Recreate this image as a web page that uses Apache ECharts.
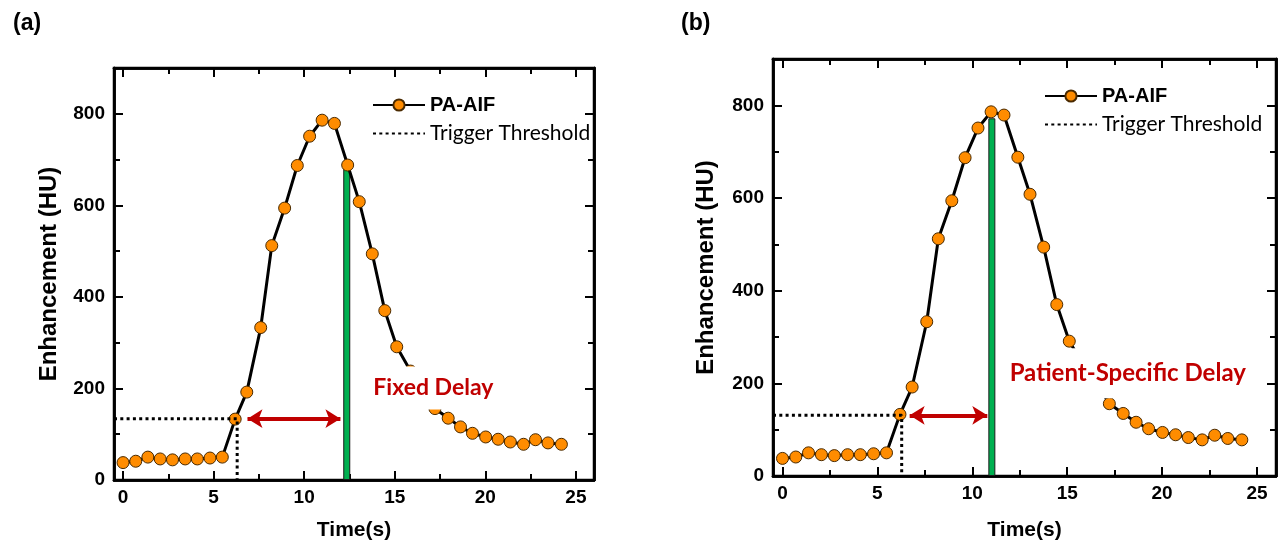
<!DOCTYPE html>
<html><head><meta charset="utf-8">
<script src="https://cdn.jsdelivr.net/npm/echarts@6/dist/echarts.min.js"></script>
<style>html,body{margin:0;padding:0;background:#fff}#c{width:1281px;height:546px}</style>
</head><body><div id="c"></div>
<script>
// ---- data ----
const timeS = [0, 0.70, 1.37, 2.05, 2.73, 3.43, 4.10, 4.80, 5.48, 6.19, 6.83, 7.60, 8.21, 8.92, 9.62, 10.30, 10.99, 11.67, 12.40, 13.04, 13.76, 14.45, 15.11, 15.87, 16.56, 17.22, 17.95, 18.63, 19.29, 20.02, 20.71, 21.38, 22.11, 22.77, 23.46, 24.20];
const enhancementHU = [38, 41, 50, 46, 44, 46, 46, 48, 50, 133, 192, 333, 512, 594, 687, 751, 786, 779, 688, 608, 494, 370, 291, 238, 200, 156, 135, 116, 102, 94, 89, 83, 78, 88, 81, 78];
const xTickLabels = [0, 5, 10, 15, 20, 25];
const xMinorTicks = [2.5, 7.5, 12.5, 17.5, 22.5];
const yTickLabels = [0, 200, 400, 600, 800];
const yMinorTicks = [100, 300, 500, 700, 900];
const panelNames = ['(a)', '(b)'];
const thresholdHU = [134, 131];
const triggerTime = [6.3, 6.28];
const scanTime = [12.35, 11.03];
const scanBarTop = [680, 772];
const arrowFrom = [6.87, 6.70];
const arrowTo = [12.0, 10.79];
const delayText = ['Fixed Delay', 'Patient-Specific Delay'];
const delayTextPos = [[17.13, 201], [18.19, 222]];

const AR = 'Liberation Sans, Arial, sans-serif';
const CAL = 'Lato, Carlito, sans-serif';
const grids = [
  {left: 114, top: 68, width: 480, height: 414},
  {left: 773, top: 59, width: 503, height: 417}
];
const yNameGap = [53, 55];
const xNameGap = [40, 44];
const legendPos = [{left: 367, top: 90}, {left: 1039, top: 81}];
const labelPad = [[13, 4, 7, 4], [15, 4, 11, 4]];
const labelSize = [23, 24];

const lineW = 2.5;
function xAxes(g) {
  const base = {gridIndex: g, type: 'value', min: -0.5, max: 26, splitLine: {show: false},
    axisLine: {show: true, onZero: false, lineStyle: {color: '#000', width: lineW}}};
  const major = {show: true, inside: true, length: 9, customValues: xTickLabels, lineStyle: {color: '#000', width: 2}};
  const minor = {show: true, inside: true, length: 6, customValues: xMinorTicks, lineStyle: {color: '#000', width: 2}};
  return [
    Object.assign({}, base, {position: 'bottom', name: 'Time(s)', nameLocation: 'middle', nameGap: xNameGap[g],
      nameTextStyle: {fontFamily: AR, fontWeight: 'bold', fontSize: 21, color: '#000'},
      axisTick: major,
      axisLabel: {customValues: xTickLabels, margin: 8, fontFamily: AR, fontWeight: 'bold', fontSize: 19, color: '#000'}}),
    Object.assign({}, base, {position: 'top', axisTick: major, axisLabel: {show: false}}),
    Object.assign({}, base, {position: 'bottom', axisTick: minor, axisLabel: {show: false}}),
    Object.assign({}, base, {position: 'top', axisTick: minor, axisLabel: {show: false}})
  ];
}
function yAxes(g) {
  const base = {gridIndex: g, type: 'value', min: 0, max: 900, splitLine: {show: false},
    axisLine: {show: true, onZero: false, lineStyle: {color: '#000', width: lineW}}};
  const major = {show: true, inside: true, length: 9, customValues: yTickLabels, lineStyle: {color: '#000', width: 2}};
  const minor = {show: true, inside: true, length: 6, customValues: yMinorTicks, lineStyle: {color: '#000', width: 2}};
  return [
    Object.assign({}, base, {position: 'left', name: 'Enhancement (HU)', nameLocation: 'middle', nameGap: yNameGap[g],
      nameTextStyle: {fontFamily: AR, fontWeight: 'bold', fontSize: 24, color: '#000'},
      axisTick: major,
      axisLabel: {customValues: yTickLabels, margin: 9, fontFamily: AR, fontWeight: 'bold', fontSize: 19, color: '#000'}}),
    Object.assign({}, base, {position: 'right', axisTick: major, axisLabel: {show: false}}),
    Object.assign({}, base, {position: 'left', axisTick: minor, axisLabel: {show: false}}),
    Object.assign({}, base, {position: 'right', axisTick: minor, axisLabel: {show: false}})
  ];
}

const curve = timeS.map((t, i) => [t, enhancementHU[i]]);
const series = [];
[0, 1].forEach(g => {
  const ax = {xAxisIndex: g * 4, yAxisIndex: g * 4};
  series.push(Object.assign({}, ax, {
    type: 'bar', name: 'scan' + g, data: [[scanTime[g], scanBarTop[g]]], barWidth: 7, z: 2,
    itemStyle: {color: '#00B050', borderColor: '#1a1a1a', borderWidth: 1},
    markLine: {silent: true, symbol: ['arrow', 'arrow'], symbolSize: [14, 15], label: {show: false},
      lineStyle: {color: '#C00000', width: 4, type: 'solid'},
      data: [[{coord: [arrowFrom[g], thresholdHU[g]]}, {coord: [arrowTo[g], thresholdHU[g]]}]]}
  }));
  series.push(Object.assign({}, ax, {
    type: 'line', name: 'PA-AIF', data: curve, z: 3,
    symbol: 'circle', symbolSize: 12, showSymbol: true,
    itemStyle: {color: '#FF8C00', borderColor: '#4a2a00', borderWidth: 1},
    lineStyle: {color: '#000', width: 3}
  }));
  series.push(Object.assign({}, ax, {
    type: 'line', name: 'Trigger Threshold', z: 4, symbol: 'none',
    data: [[-0.5, thresholdHU[g]], [triggerTime[g], thresholdHU[g]], [triggerTime[g], 0]],
    itemStyle: {color: '#000'},
    lineStyle: {color: '#000', width: 3, type: [3, 3.3]}
  }));
  series.push(Object.assign({}, ax, {
    type: 'custom', name: 'label' + g, data: [delayTextPos[g]], z: 10, silent: true,
    renderItem: (params, api) => {
      const p = api.coord([api.value(0), api.value(1)]);
      return {type: 'text', z2: 100, x: p[0], y: p[1], style: {
        text: delayText[g], align: 'center', verticalAlign: 'middle',
        fill: '#C00000', font: 'bold ' + labelSize[g] + 'px ' + CAL,
        backgroundColor: '#fff', padding: labelPad[g]
      }};
    }
  }));
});

const chart = echarts.init(document.getElementById('c'), null, {renderer: 'canvas'});
chart.setOption({
  animation: false,
  backgroundColor: '#fff',
  title: panelNames.map((t, i) => ({text: t, left: i ? 676 : 8, top: 7,
    textStyle: {fontFamily: AR, fontWeight: 'bold', fontSize: 23, color: '#000'}})),
  legend: [0, 1].map(g => ({
    data: ['PA-AIF', {name: 'Trigger Threshold', itemStyle: {opacity: 0}}],
    orient: 'vertical', left: legendPos[g].left, top: legendPos[g].top,
    itemWidth: 52, itemHeight: 14, itemGap: 8, selectedMode: false,
    formatter: n => n === 'PA-AIF' ? '{b|PA-AIF}' : '{r|Trigger Threshold}',
    textStyle: {rich: {
      b: {fontFamily: AR, fontWeight: 'bold', fontSize: 20, color: '#000'},
      r: {fontFamily: CAL, fontSize: 21, color: '#000'}
    }}
  })),
  grid: grids.map(g => Object.assign({show: true, borderColor: '#000', borderWidth: lineW, backgroundColor: 'transparent'}, g)),
  xAxis: xAxes(0).concat(xAxes(1)),
  yAxis: yAxes(0).concat(yAxes(1)),
  series: series
});
</script></body></html>
